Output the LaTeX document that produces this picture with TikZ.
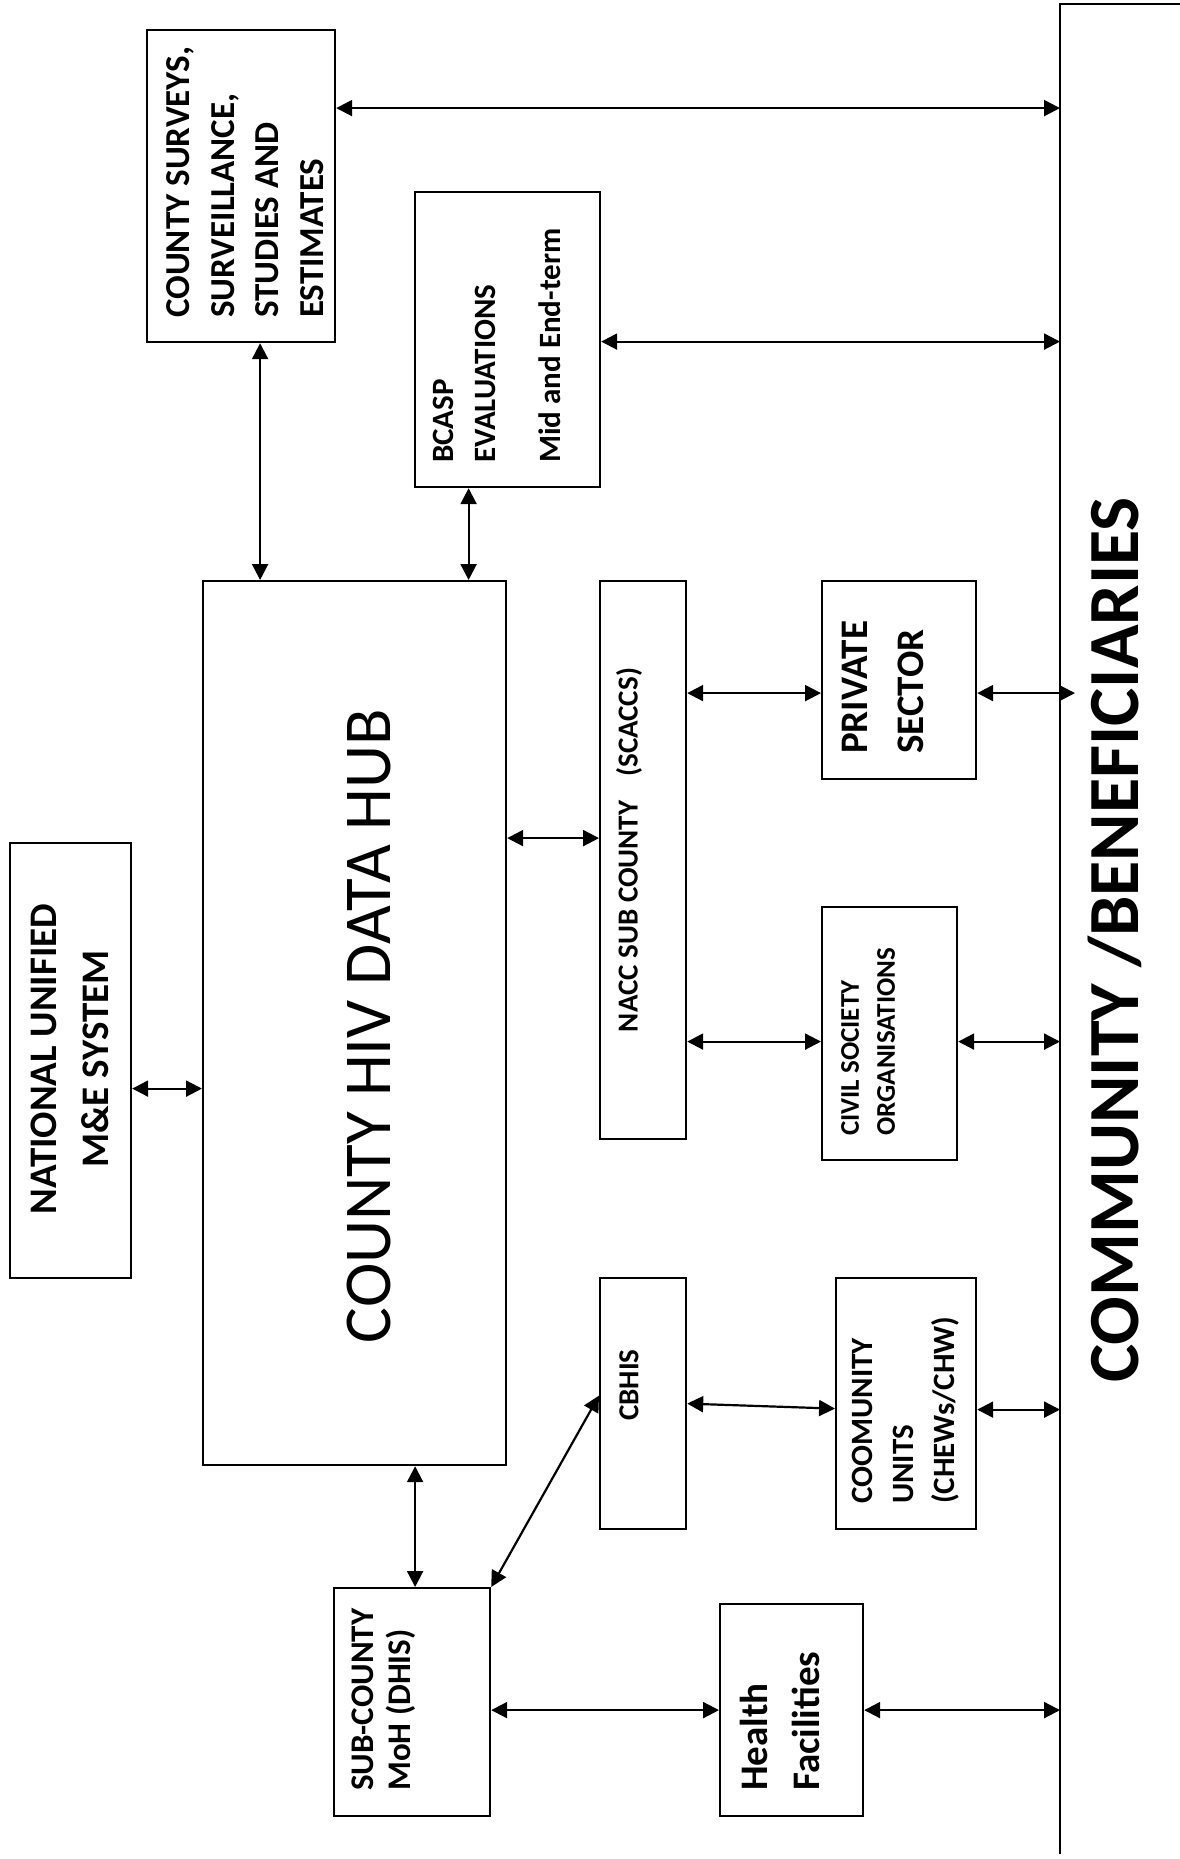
\documentclass[tikz,border=0pt]{standalone}
\usepackage{fontspec}
\setmainfont{Carlito}
\usetikzlibrary{arrows.meta}

\begin{document}
\begin{tikzpicture}[x=1pt, y=-1pt,
  box/.style={draw, line width=2.2pt, anchor=north west, inner sep=0pt},
  link/.style={>={Triangle[length=16pt,width=16pt]}, <->, line width=2.2pt},
  lbl/.style={rotate=90, align=left, anchor=west, inner sep=0pt},
  ctr/.style={rotate=90, align=center, inner sep=0pt}]
  \useasboundingbox (0,0) rectangle (1179,1859);

  \node[box, minimum width=188pt, minimum height=312pt] (surveys) at (146,29) {};
  \node[box, minimum width=185pt, minimum height=295pt] (bcasp) at (414,191) {};
  \node[box, minimum width=303pt, minimum height=884pt] (hub) at (202,580) {};
  \node[box, minimum width=121pt, minimum height=435pt] (national) at (9,842) {};
  \node[box, minimum width=86pt, minimum height=558pt] (nacc) at (599,580) {};
  \node[box, minimum width=154pt, minimum height=198pt] (private) at (821,580) {};
  \node[box, minimum width=135pt, minimum height=253pt] (cso) at (821,906) {};
  \node[box, minimum width=86pt, minimum height=251pt] (cbhis) at (599,1277) {};
  \node[box, minimum width=140pt, minimum height=251pt] (cu) at (835,1277) {};
  \node[box, minimum width=156pt, minimum height=228pt] (subcounty) at (333,1587) {};
  \node[box, minimum width=143pt, minimum height=212pt] (health) at (719,1603) {};
  \node[anchor=north west, inner sep=0pt, minimum width=140pt, minimum height=1850pt] (comm) at (1060,4) {};
  \draw[line width=2.2pt] (comm.south west) -- (comm.north west) -- (comm.north east);

  \node[lbl, font=\fontsize{35}{44.7}\selectfont\bfseries] (surveystxt) at (245,318) {COUNTY SURVEYS,\\SURVEILLANCE,\\STUDIES AND\\ESTIMATES};
  \node[lbl, font=\fontsize{31}{42}\selectfont\bfseries] (bcasptxt) at (497,463) {BCASP\\EVALUATIONS\\[23pt]Mid and End-term};
  \node[ctr, font=\fontsize{39}{51.7}\selectfont\bfseries] (nationaltxt) at (70,1059) {NATIONAL UNIFIED\\M\&E SYSTEM};
  \node[ctr, font=\fontsize{67}{80}\selectfont] (hubtxt) at (369,1026) {COUNTY HIV DATA HUB};
  \node[ctr, font=\fontsize{29}{35}\selectfont\bfseries] (nacctxt) at (629,850) {NACC SUB COUNTY\hspace{24pt}(SCACCS)};
  \node[lbl, font=\fontsize{39}{55.5}\selectfont\bfseries] (privatetxt) at (883,754) {PRIVATE\\SECTOR};
  \node[lbl, font=\fontsize{27}{36}\selectfont\bfseries] (csotxt) at (868,1136) {CIVIL SOCIETY\\ORGANISATIONS};
  \node[ctr, font=\fontsize{29}{35}\selectfont\bfseries] (cbhistxt) at (629,1385) {CBHIS};
  \node[lbl, font=\fontsize{31}{41}\selectfont\bfseries] (cutxt) at (906,1504) {COOMUNITY\\UNITS\\(CHEWs/CHW)};
  \node[lbl, font=\fontsize{33}{36.5}\selectfont\bfseries] (subcountytxt) at (383.5,1791) {SUB-COUNTY\\MoH (DHIS)};
  \node[lbl, font=\fontsize{39}{52}\selectfont\bfseries] (healthtxt) at (780,1791) {Health\\Facilities};
  \node[ctr, font=\fontsize{72}{86}\selectfont\bfseries] (commtxt) at (1115,940) {COMMUNITY /BENEFICIARIES};

  \draw[link] ([yshift=78pt]surveys.east) -- ([yshift=78pt]surveys.east -| comm.west);
  \draw[link] ([yshift=-2pt]bcasp.east) -- ([yshift=-2pt]bcasp.east -| comm.west);
  \draw[link] ([xshift=19pt]surveys.south) -- ([xshift=19pt]surveys.south |- hub.north);
  \draw[link] ([xshift=-39pt]bcasp.south) -- ([xshift=-39pt]bcasp.south |- hub.north);
  \draw[link] ([yshift=-28pt]national.east) -- ([yshift=-28pt]national.east -| hub.west);
  \draw[link] ([yshift=22pt]nacc.west -| hub.east) -- ([yshift=22pt]nacc.west);
  \draw[link] ([yshift=-13pt]private.west -| nacc.east) -- ([yshift=-13pt]private.west);
  \draw[link, shorten >=-15pt] ([yshift=-13pt]private.east) -- ([yshift=-13pt]private.east -| comm.west);
  \draw[link] ([yshift=-8pt]cso.west -| nacc.east) -- ([yshift=-8pt]cso.west);
  \draw[link] ([yshift=-8pt]cso.east) -- ([yshift=-8pt]cso.east -| comm.west);
  \draw[link] ([xshift=3pt]subcounty.north |- hub.south) -- ([xshift=3pt]subcounty.north);
  \draw[link] (subcounty.north east) -- ([yshift=8pt]cbhis.west);
  \draw[link] (cbhis.east) -- ([yshift=-5pt]cu.west);
  \draw[link] ([yshift=-6pt]cu.east) -- ([yshift=-6pt]cu.east -| comm.west);
  \draw[link] (health.west -| subcounty.east) -- (health.west);
  \draw[link] (health.east) -- (health.east -| comm.west);
\end{tikzpicture}
\end{document}
